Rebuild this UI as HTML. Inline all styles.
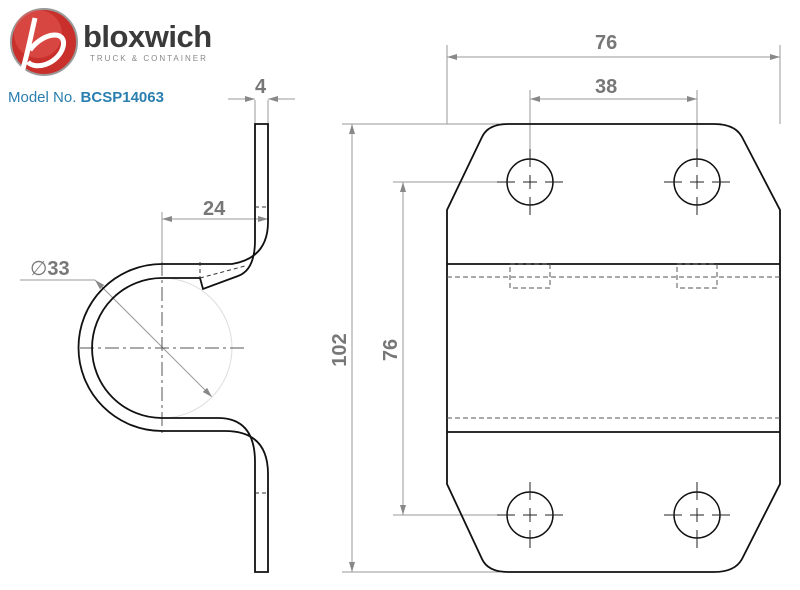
<!DOCTYPE html>
<html><head><style>body{margin:0;background:#fff}svg{display:block}</style></head><body>
<svg width="800" height="590" viewBox="0 0 800 590" xmlns="http://www.w3.org/2000/svg" font-family="Liberation Sans, sans-serif">
<defs><marker id="a" viewBox="0 0 10 6" refX="10" refY="3" markerWidth="10" markerHeight="6" orient="auto-start-reverse"><path d="M0,0L10,3L0,6z" fill="#888"/></marker></defs>
<!-- logo -->
<circle cx="44" cy="42" r="33" fill="#c9302c" stroke="#999" stroke-width="2"/>
<circle cx="38" cy="34" r="24" fill="#e25550" opacity="0.6"/>
<path d="M35,18 C30,40 26,60 22,72 M30,50 C45,30 70,30 62,50 C55,65 35,70 28,62" stroke="#fff" stroke-width="5" fill="none"/>
<text x="83" y="47" font-size="31" font-weight="bold" fill="#3a3a3a" letter-spacing="-0.5">bloxwich</text>
<text x="90" y="61" font-size="8" fill="#888" letter-spacing="2">TRUCK &amp; CONTAINER</text>
<text x="8" y="102" font-size="15" fill="#2a7fb0">Model No. <tspan font-weight="bold">BCSP14063</tspan></text>
<g stroke="#999" stroke-width="1" fill="none">
<line x1="255" y1="100" x2="255" y2="124"/><line x1="268" y1="100" x2="268" y2="124"/>
<line x1="228" y1="99" x2="255" y2="99" marker-end="url(#a)"/><line x1="295" y1="99" x2="268" y2="99" marker-end="url(#a)"/>
<line x1="162" y1="212" x2="162" y2="265"/>
<line x1="162" y1="219" x2="268" y2="219" marker-start="url(#a)" marker-end="url(#a)"/>
<line x1="20" y1="280" x2="95" y2="280"/>
<line x1="95" y1="280" x2="212" y2="397" marker-start="url(#a)" marker-end="url(#a)"/>
<line x1="447" y1="45" x2="447" y2="124"/><line x1="780" y1="45" x2="780" y2="124"/>
<line x1="447" y1="57" x2="780" y2="57" marker-start="url(#a)" marker-end="url(#a)"/>
<line x1="530" y1="90" x2="530" y2="160"/><line x1="697" y1="90" x2="697" y2="160"/>
<line x1="530" y1="99" x2="697" y2="99" marker-start="url(#a)" marker-end="url(#a)"/>
<line x1="342" y1="124" x2="500" y2="124"/><line x1="342" y1="572" x2="500" y2="572"/>
<line x1="352" y1="124" x2="352" y2="572" marker-start="url(#a)" marker-end="url(#a)"/>
<line x1="393" y1="182" x2="505" y2="182"/><line x1="393" y1="515" x2="505" y2="515"/>
<line x1="403" y1="182" x2="403" y2="515" marker-start="url(#a)" marker-end="url(#a)"/>
</g>
<g font-size="20" font-weight="bold" fill="#777">
<text x="255" y="93">4</text><text x="203" y="215">24</text>
<text x="30" y="275"><tspan font-weight="normal">∅</tspan>33</text>
<text x="595" y="49">76</text><text x="595" y="93">38</text>
<text transform="translate(346,350) rotate(-90)" text-anchor="middle">102</text>
<text transform="translate(397,350) rotate(-90)" text-anchor="middle">76</text>
</g>
<circle cx="162" cy="348" r="70" stroke="#ddd" fill="none"/>
<g stroke="#555" stroke-width="1" stroke-dasharray="14,4,3,4" fill="none">
<line x1="162" y1="262" x2="162" y2="435"/><line x1="80" y1="348" x2="245" y2="348"/>
</g>
<g stroke="#111" stroke-width="1.8" fill="none">
<path d="M268,124 V222 Q268,258 232,264 H162 A83,83 0 0 0 162,431 H225 Q268,431 268,474 V572 H255 V462 Q255,418 218,418 H162 A70,70 0 0 1 162,278 H200 L203,289 L238,276 Q255,270 255,240 V124 Z"/>
</g>
<g stroke="#333" stroke-dasharray="4,3" fill="none"><line x1="255" y1="207" x2="268" y2="207"/><line x1="255" y1="493" x2="268" y2="493"/><line x1="200" y1="262" x2="200" y2="278"/><line x1="200" y1="278" x2="245" y2="266"/></g>
<path d="M508,124 H714 Q735,124 742,137 L780,210 V484 L742,559 Q735,572 714,572 H508 Q488,572 482,559 L447,484 V210 L482,137 Q488,124 508,124 Z" stroke="#111" stroke-width="1.8" fill="none"/>
<g stroke="#111" stroke-width="1.8"><line x1="447" y1="264" x2="780" y2="264"/><line x1="447" y1="432" x2="780" y2="432"/></g>
<g stroke="#555" stroke-dasharray="5,3" fill="none">
<line x1="447" y1="277" x2="780" y2="277"/><line x1="447" y1="418" x2="780" y2="418"/>
<rect x="510" y="264" width="40" height="24"/><rect x="677" y="264" width="40" height="24"/>
</g>
<g stroke="#111" fill="none" stroke-width="1.5">
<circle cx="530" cy="182" r="23"/><circle cx="697" cy="182" r="23"/>
<circle cx="530" cy="515" r="23"/><circle cx="697" cy="515" r="23"/>
</g>
<g stroke="#222" stroke-width="1">
<path d="M497,182h18m8,0h14m8,0h18M530,149v18m0,8v14m0,8v18"/>
<path d="M664,182h18m8,0h14m8,0h18M697,149v18m0,8v14m0,8v18"/>
<path d="M497,515h18m8,0h14m8,0h18M530,482v18m0,8v14m0,8v18"/>
<path d="M664,515h18m8,0h14m8,0h18M697,482v18m0,8v14m0,8v18"/>
</g>
</svg>
</body></html>
